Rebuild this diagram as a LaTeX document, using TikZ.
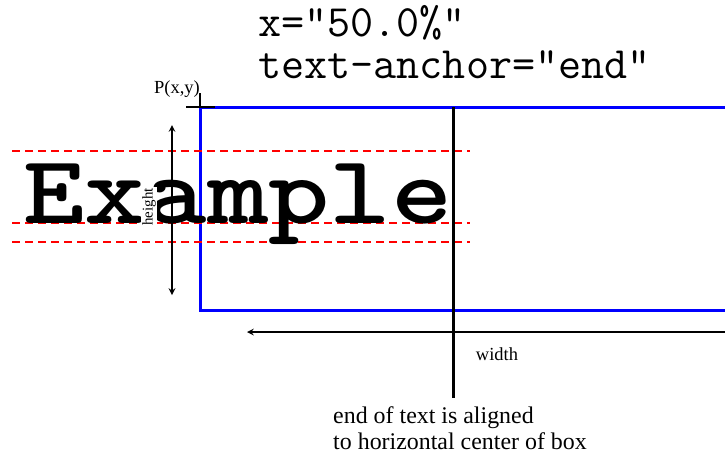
\documentclass[tikz,border=0pt]{standalone}
\usepackage{fontspec}
\setmainfont{Liberation Serif}
\usetikzlibrary{arrows, positioning}
\tikzstyle{arrow} = [line width=0.25mm,<->,>=stealth]
\tikzstyle{guide} = [red, line width=0.55mm, dash pattern=on 1.6mm off 1mm]
\tikzstyle{box} = [blue, line width=0.6mm]
\tikzstyle{centerline} = [black, line width=0.6mm]
\tikzstyle{attr} = [inner sep=0pt, anchor=base west, font=\ttfamily\fontsize{25.5}{28}\selectfont]
\tikzstyle{small} = [inner sep=0pt, font=\fontsize{10.5}{12}\selectfont]

\begin{document}
\begin{tikzpicture}[x=0.2mm, y=-0.2mm]
\useasboundingbox (0,0) rectangle (725,462);

% Attributes
\node (xattr) [attr] at (258,36) {x="50.0\%"};
\node (anchorattr) [attr] at (258,78) {text-anchor="end"};

% Box and its corner
\coordinate (P) at (200,107);
\coordinate (boxend) at (740,310);
\draw [box] (P) rectangle (boxend);
\draw [line width=0.25mm] ([xshift=-2.8mm]P) -- ([xshift=3mm]P);
\draw [line width=0.25mm] ([yshift=2.8mm]P) -- (P);
\node (plabel) [small, anchor=base] at (177,93) {P(x,y)};

% Guide lines
\foreach \y in {151,223,242}
  \draw [guide] (12,\y) -- (470,\y);

% Text
\node (example) [inner sep=0pt, anchor=base east, font=\ttfamily\bfseries\fontsize{66.5}{67}\selectfont] at (453,223) {\scalebox{1}[0.835]{Example}};

% Height
\coordinate (htop) at (172,125);
\coordinate (hbot) at (172,295);
\draw [arrow] (htop) -- (hbot);
\node (hlabel) [small, rotate=90, fill=white, inner sep=0.3mm, font=\fontsize{8.5}{10}\selectfont] at (149,207) {height};

% Center of box
\coordinate (ctop) at (453,107);
\coordinate (cbot) at (453,398);
\draw [centerline] (ctop) -- (cbot);
\node (note) [below=1.6mm of cbot, xshift=1.4mm, inner sep=0pt, align=left, font=\fontsize{13.6}{15.2}\selectfont] {end of text is aligned\\to horizontal center of box};

% Width
\coordinate (wleft) at (247,332);
\coordinate (wright) at (740,332);
\draw [arrow] (wleft) -- (wright);
\node (wlabel) [small] at (497,354) {width};

\end{tikzpicture}
\end{document}
